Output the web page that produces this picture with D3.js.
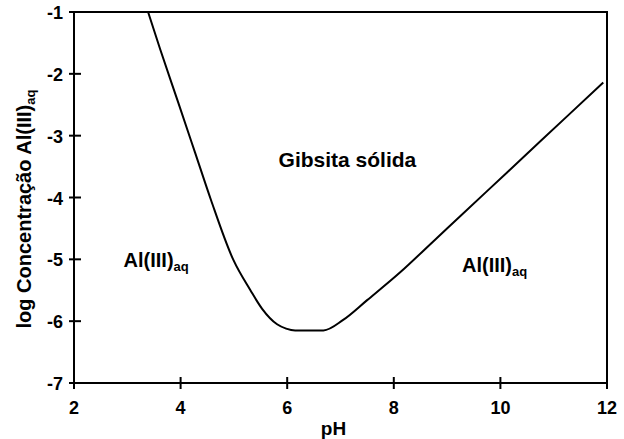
<!DOCTYPE html>
<html>
<head>
<meta charset="utf-8">
<script src="https://cdn.jsdelivr.net/npm/d3@7"></script>
<style>
  body { margin: 0; background: #fff; }
  text { font-family: "Liberation Sans", Arial, sans-serif; font-weight: bold; fill: #000; }
</style>
</head>
<body>
<div id="chart"></div>
<script>
// boundary of gibbsite solubility
const phValues = [3.39, 3.62, 3.95, 4.27, 4.57, 4.99, 5.31, 5.53, 5.81, 5.98, 6.15, 6.68, 7.05, 7.5, 8.12, 8.74, 9.25, 10.13, 11.26, 11.93];
const logAl = [-1.0, -1.61, -2.45, -3.27, -4.04, -5.01, -5.5, -5.8, -6.05, -6.12, -6.15, -6.15, -5.98, -5.66, -5.21, -4.71, -4.3, -3.59, -2.68, -2.14];

const xTicks = [2, 4, 6, 8, 10, 12];
const yTicks = [-1, -2, -3, -4, -5, -6, -7];

const regionLabels = [
  { text: "Gibsita sólida", sub: "", ph: 7.13, log: -3.5, anchor: "middle" },
  { text: "Al(III)", sub: "aq", ph: 2.93, log: -5.13, anchor: "start" },
  { text: "Al(III)", sub: "aq", ph: 9.28, log: -5.2, anchor: "start" }
];

const margin = { top: 12, right: 17, bottom: 56, left: 74 };
const width = 624 - margin.left - margin.right;
const height = 439 - margin.top - margin.bottom;

const svg = d3.select("#chart")
  .append("svg")
  .attr("width", 624)
  .attr("height", 439);

const g = svg.append("g")
  .attr("transform", `translate(${margin.left},${margin.top})`);

const x = d3.scaleLinear().domain([2, 12]).range([0, width]);
const y = d3.scaleLinear().domain([-7, -1]).range([height, 0]);

// frame
g.append("rect")
  .attr("x", 0).attr("y", 0)
  .attr("width", width).attr("height", height)
  .attr("fill", "none")
  .attr("stroke", "#000")
  .attr("stroke-width", 2);

// x ticks + labels
g.selectAll(".xtick")
  .data(xTicks)
  .enter().append("line")
  .attr("x1", d => x(d)).attr("x2", d => x(d))
  .attr("y1", height - 6).attr("y2", height + 6)
  .attr("stroke", "#000").attr("stroke-width", 2);

g.selectAll(".xlab")
  .data(xTicks)
  .enter().append("text")
  .attr("x", d => x(d))
  .attr("y", height + 31)
  .attr("text-anchor", "middle")
  .style("font-size", "18px")
  .text(d => d);

// y ticks + labels
g.selectAll(".ytick")
  .data(yTicks)
  .enter().append("line")
  .attr("x1", -5).attr("x2", 7)
  .attr("y1", d => y(d)).attr("y2", d => y(d))
  .attr("stroke", "#000").attr("stroke-width", 2);

g.selectAll(".ylab")
  .data(yTicks)
  .enter().append("text")
  .attr("x", -11)
  .attr("y", d => y(d) + 7)
  .attr("text-anchor", "end")
  .style("font-size", "18px")
  .text(d => d);

// axis titles
svg.append("text")
  .attr("x", margin.left + x(7) - 7)
  .attr("y", 435)
  .attr("text-anchor", "middle")
  .style("font-size", "19px")
  .text("pH");

const yt = svg.append("text")
  .attr("transform", "translate(31,209) rotate(-90)")
  .attr("text-anchor", "middle")
  .style("font-size", "20px");
yt.append("tspan").text("log Concentração Al(III)");
yt.append("tspan").attr("dy", 4).style("font-size", "13px").text("aq");

// boundary line
const line = d3.line()
  .x(d => x(d[0]))
  .y(d => y(d[1]))
  .curve(d3.curveMonotoneX);

g.append("path")
  .datum(phValues.map((p, i) => [p, logAl[i]]))
  .attr("d", line)
  .attr("fill", "none")
  .attr("stroke", "#000")
  .attr("stroke-width", 2);

// region labels
regionLabels.forEach(l => {
  const t = g.append("text")
    .attr("x", x(l.ph))
    .attr("y", y(l.log))
    .attr("text-anchor", l.anchor)
    .style("font-size", l.sub ? "20px" : "21px");
  t.append("tspan").text(l.text);
  if (l.sub) t.append("tspan").attr("dy", 4).style("font-size", "13px").text(l.sub);
});
</script>
</body>
</html>
